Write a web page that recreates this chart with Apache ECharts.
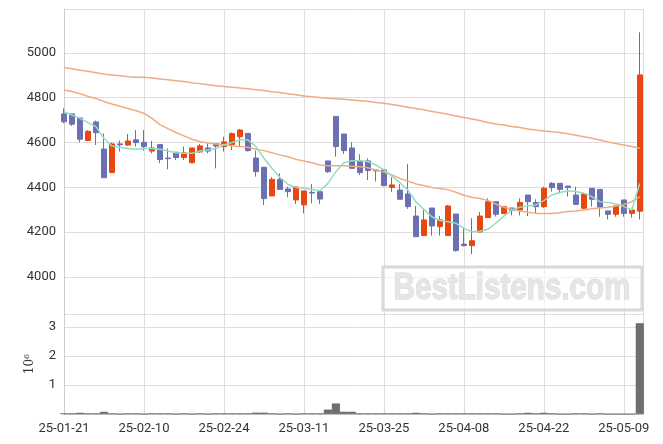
<!DOCTYPE html>
<html>
<head>
<meta charset="utf-8">
<script src="https://cdn.jsdelivr.net/npm/echarts@6/dist/echarts.min.js"></script>
<style>
html,body{margin:0;padding:0;background:#fff;}
#chart{width:663px;height:444px;}
</style>
</head>
<body>
<div id="chart"></div>
<script>
const dates = ['25-01-21','25-01-22','25-01-23','25-01-24','25-01-31','25-02-03','25-02-04','25-02-05','25-02-06','25-02-07',
 '25-02-10','25-02-11','25-02-12','25-02-13','25-02-14','25-02-17','25-02-18','25-02-19','25-02-20','25-02-21',
 '25-02-24','25-02-25','25-02-26','25-02-27','25-02-28','25-03-04','25-03-05','25-03-06','25-03-07','25-03-10',
 '25-03-11','25-03-12','25-03-13','25-03-14','25-03-17','25-03-18','25-03-19','25-03-20','25-03-21','25-03-24',
 '25-03-25','25-03-26','25-03-27','25-03-28','25-03-31','25-04-01','25-04-02','25-04-03','25-04-04','25-04-07',
 '25-04-08','25-04-09','25-04-10','25-04-11','25-04-14','25-04-15','25-04-16','25-04-17','25-04-18','25-04-21',
 '25-04-22','25-04-23','25-04-24','25-04-25','25-04-28','25-04-29','25-04-30','25-05-02','25-05-07','25-05-08',
 '25-05-09','25-05-12','25-05-13'];

const opens  = [4728,4728,4710,4609,4692,4571,4466,4594,4589,4612, 4601,4562,4591,4531,4557,4533,4510,4558,4576,4595,
 4582,4591,4626,4641,4531,4490,4362,4436,4393,4344, 4322,4378,4381,4518,4716,4638,4576,4518,4518,4478,
 4478,4400,4388,4371,4272,4185,4308,4225,4185,4281, 4147,4140,4201,4265,4336,4283,4308,4299,4366,4333,
 4314,4418,4418,4406,4366,4307,4396,4391,4295,4280, 4344,4284,4294];
const closes = [4693,4682,4615,4650,4644,4443,4594,4590,4607,4600, 4582,4576,4524,4528,4533,4554,4576,4585,4562,4585,
 4603,4640,4656,4564,4470,4350,4436,4391,4381,4402, 4384,4375,4348,4470,4582,4564,4485,4466,4475,4474,
 4408,4411,4347,4314,4180,4255,4228,4255,4317,4118, 4140,4162,4272,4336,4280,4314,4298,4333,4336,4314,
 4396,4399,4391,4399,4324,4371,4347,4311,4280,4317, 4284,4299,4902];
const lows   = [4686,4674,4601,4609,4589,4443,4466,4560,4585,4582, 4564,4552,4508,4481,4522,4522,4510,4555,4552,4485,
 4560,4567,4585,4560,4448,4321,4362,4391,4356,4326, 4284,4329,4325,4465,4537,4549,4485,4455,4433,4426,
 4405,4380,4347,4304,4180,4185,4185,4185,4185,4113, 4136,4102,4200,4265,4270,4283,4275,4275,4272,4287,
 4307,4381,4374,4359,4324,4302,4314,4269,4257,4269, 4269,4265,4257];
const highs  = [4753,4728,4710,4655,4698,4641,4600,4609,4638,4656, 4656,4607,4591,4574,4557,4582,4576,4594,4597,4597,
 4626,4645,4661,4641,4564,4490,4445,4463,4403,4406, 4384,4415,4381,4518,4719,4638,4601,4548,4530,4478,
 4478,4445,4415,4505,4317,4299,4308,4272,4322,4281, 4220,4262,4290,4351,4336,4314,4308,4351,4366,4347,
 4403,4424,4418,4406,4403,4377,4396,4391,4295,4317, 4344,4299,5092];

const volumes = [20000,20000,40000,20000,20000,75000,20000,0,20000,20000, 0,20000,20000,20000,0,20000,0,20000,0,20000,
 20000,20000,20000,20000,45000,45000,20000,0,20000,0, 20000,20000,20000,150000,360000,75000,75000,20000,20000,20000,
 20000,20000,20000,20000,40000,20000,0,20000,20000,20000, 20000,20000,20000,20000,20000,0,0,20000,40000,20000,
 40000,20000,0,0,20000,20000,0,20000,0,0, 0,0,3120000];

const maShort = [4738,4723,4708,4689,4671,4619,4585,4579,4573,4570, 4574,4574,4570,4562,4555,4552,4552,4562,4567,4574,
 4589,4600,4612,4612,4582,4530,4485,4445,4414,4400, 4396,4391,4385,4418,4470,4510,4519,4519,4515,4500,
 4478,4451,4421,4388,4336,4302,4269,4252,4247,4240, 4217,4202,4204,4213,4240,4272,4299,4311,4317,4321,
 4341,4366,4377,4385,4382,4374,4359,4336,4332,4326, 4314,4299,4418];
const maMid = [4835,4828,4818,4806,4797,4783,4772,4762,4752,4742, 4731,4708,4680,4662,4645,4630,4615,4605,4598,4594,
 4590,4585,4582,4579,4570,4564,4555,4545,4537,4525, 4518,4510,4500,4496,4496,4496,4494,4492,4488,4478,
 4468,4455,4440,4428,4415,4408,4400,4395,4390,4378, 4365,4356,4350,4342,4326,4311,4302,4295,4289,4284,
 4284,4284,4287,4292,4295,4299,4305,4308,4311,4317, 4324,4336,4359];
const maLong = [4934,4929,4923,4918,4912,4906,4902,4898,4894,4892, 4891,4888,4884,4880,4876,4872,4867,4863,4858,4854,
 4850,4847,4843,4840,4836,4832,4827,4823,4818,4813, 4808,4805,4801,4798,4796,4793,4790,4787,4784,4779,
 4775,4770,4764,4758,4752,4746,4739,4733,4726,4719, 4712,4705,4698,4690,4683,4678,4672,4667,4661,4656,
 4652,4648,4645,4639,4633,4626,4619,4611,4603,4596, 4589,4582,4575];

const UP = '#e8470f', DOWN = '#6b70b3';
const GRID = '#dedede';

const candleData = dates.map((d, i) => [i, opens[i], closes[i], lows[i], highs[i]]);
const volData = dates.map((d, i) => [i, volumes[i]]);
const lineData = arr => arr.map((v, i) => [i, v]);

const chart = echarts.init(document.getElementById('chart'), null, {renderer: 'canvas'});
const labelFont = {fontFamily: 'Roboto', fontSize: 13, color: '#333'};

chart.setOption({
  animation: false,
  backgroundColor: '#fff',
  grid: [
    {left: 64, right: 20, top: 9, height: 305},
    {left: 64, right: 20, top: 314, height: 100}
  ],
  xAxis: [
    {type: 'value', gridIndex: 0, min: 0, max: 72.4, interval: 10,
     axisLine: {show: false}, axisTick: {show: false}, axisLabel: {show: false},
     splitLine: {show: true, lineStyle: {color: GRID, width: 1}}},
    {type: 'value', gridIndex: 1, min: 0, max: 72.4, interval: 10,
     axisLine: {show: true, lineStyle: {color: '#cccccc'}}, axisTick: {show: false},
     axisLabel: Object.assign({margin: 8, showMaxLabel: false,
       formatter: v => (Number.isInteger(v) && v % 10 === 0 && dates[v]) ? dates[v] : ''}, labelFont),
     splitLine: {show: true, lineStyle: {color: GRID, width: 1}}}
  ],
  yAxis: [
    {type: 'value', gridIndex: 0, min: 3835, max: 5196, splitNumber: 7, scale: true,
     axisLine: {show: true, lineStyle: {color: '#cccccc'}}, axisTick: {show: false},
     axisLabel: Object.assign({margin: 8, formatter: v => (v % 200 === 0 ? String(v) : '')}, labelFont),
     splitLine: {show: true, lineStyle: {color: GRID, width: 1}}},
    {type: 'value', gridIndex: 1, min: 0, max: 3440000, splitNumber: 3,
     axisLine: {show: true, lineStyle: {color: '#cccccc'}}, axisTick: {show: false},
     axisLabel: Object.assign({margin: 8, formatter: v => (v > 0 && v % 1000000 === 0 ? String(v / 1000000) : '')}, labelFont),
     splitLine: {show: true, lineStyle: {color: GRID, width: 1}},
     name: '{b|10}{s|6}', nameLocation: 'middle', nameRotate: 90, nameGap: 27,
     nameTextStyle: {rich: {
       b: {fontFamily: 'DejaVu Serif', fontSize: 12, color: '#333', lineHeight: 14},
       s: {fontFamily: 'DejaVu Serif', fontSize: 8, color: '#333', lineHeight: 8, verticalAlign: 'top'}
     }}}
  ],
  series: [
    {type: 'candlestick', xAxisIndex: 0, yAxisIndex: 0, data: candleData,
     encode: {x: 0, y: [1, 2, 3, 4]}, barWidth: 5, z: 2,
     itemStyle: {color: UP, color0: DOWN, borderColor: UP, borderColor0: DOWN, borderWidth: 1}},
    {type: 'line', xAxisIndex: 0, yAxisIndex: 0, data: lineData(maLong), showSymbol: false, z: 3,
     lineStyle: {color: '#eeac84', width: 1.5}},
    {type: 'line', xAxisIndex: 0, yAxisIndex: 0, data: lineData(maMid), showSymbol: false, z: 3,
     lineStyle: {color: '#eeac84', width: 1.5}},
    {type: 'line', xAxisIndex: 0, yAxisIndex: 0, data: lineData(maShort), showSymbol: false, z: 3,
     lineStyle: {color: '#93dcc1', width: 1.5}},
    {type: 'bar', xAxisIndex: 1, yAxisIndex: 1, data: volData, barWidth: 8,
     itemStyle: {color: '#6f6f6f', borderColor: '#555', borderWidth: 0.5}}
  ],
  graphic: [
    {type: 'rect', z: 100, shape: {x: 383, y: 267, width: 259, height: 43},
     style: {fill: 'rgba(255,255,255,0.55)', stroke: '#d9d9d9', lineWidth: 3}},
    {type: 'text', z: 101, x: 512, y: 289, scaleX: 0.8,
     style: {text: 'BestListens.com', font: 'bold 37px "Liberation Sans"', fill: '#e6e6e6',
             stroke: '#d2d2d2', lineWidth: 1, align: 'center', verticalAlign: 'middle'}}
  ]
});
</script>
</body>
</html>
